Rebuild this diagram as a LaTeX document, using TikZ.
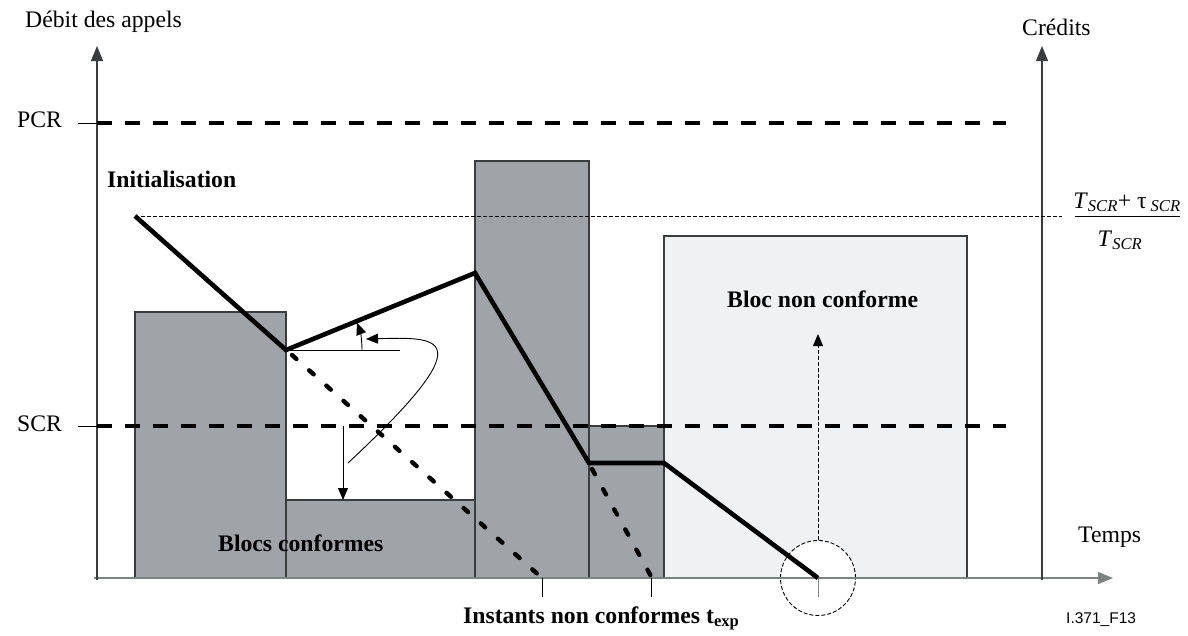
\documentclass[tikz,border=0pt]{standalone}
\usepackage{fontspec}
\setmainfont{Liberation Serif}
\newfontfamily\arialfont{Liberation Sans}
\usetikzlibrary{arrows.meta}
\definecolor{blockdark}{HTML}{A0A3A8}
\definecolor{blocklight}{HTML}{F0F1F3}
\definecolor{edgegray}{HTML}{3A3C3E}
\definecolor{axisgray}{HTML}{7E8280}
\begin{document}
\begin{tikzpicture}[x=1pt,y=-1pt,
  txt/.style={font=\fontsize{23.7}{26}\selectfont, inner sep=0pt},
  btxt/.style={font=\fontsize{23.7}{26}\selectfont\bfseries, inner sep=0pt},
  darkblock/.style={fill=blockdark, draw=edgegray, line width=1.2pt},
  lightblock/.style={fill=blocklight, draw=edgegray, line width=1.2pt},
  axisline/.style={draw=edgegray, line width=1.1pt},
  bigtip/.style={-{Triangle[length=15pt,width=12pt]}},
  smalltip/.style={-{Triangle[length=12pt,width=10pt]}},
  levelline/.style={line width=4pt, dash pattern=on 15pt off 13pt},
  curveline/.style={line width=4.6pt, line join=miter},
  dotline/.style={line width=4.4pt, line cap=round, dash pattern=on 6pt off 17pt},
  finedash/.style={line width=1pt, dash pattern=on 4pt off 2pt},
  thinline/.style={line width=0.9pt}
]
\useasboundingbox (0,0) rectangle (1188,635);

% coordinates of the credit curve
\coordinate (p0) at (135,216);
\coordinate (p1) at (286,350);
\coordinate (p2) at (475,273);
\coordinate (p3) at (589,463);
\coordinate (p4) at (664,463);
\coordinate (p5) at (818,578);
\coordinate (e1) at (542,578);
\coordinate (e2) at (652,578);

% blocks
\path[darkblock] (135,312) rectangle (286,578);
\path[darkblock] (286,500) rectangle (475,578);
\path[darkblock] (475,161) rectangle (589,578);
\path[darkblock] (589,426) rectangle (664,578);
\path[lightblock] (664,236) rectangle (967,578);

% circle
\node[circle, minimum size=75pt, inner sep=0pt, fill=white, draw=black, line width=0.9pt, dash pattern=on 4pt off 2pt] (circ) at (p5) {};

% axes
\draw[draw=axisgray, line width=1.3pt, bigtip] (94,578) -- (1113,578);
\draw[axisline, bigtip] (97,580) -- (97,46);
\draw[axisline, bigtip] (1042,580) -- (1042,46);
\draw[thinline] (78,123) -- (97,123);
\draw[thinline] (78,426) -- (97,426);
\draw[thinline] (542,578) -- (542,597);
\draw[thinline] (651,578) -- (651,597);
\draw[draw=axisgray, thinline] (818,578) -- (818,597);

% levels
\draw[levelline] (97,123) -- (1006,123);
\draw[levelline] (97,426) -- (1006,426);
\draw[finedash] (135,216) -- (1062,216);

% credit curves
\draw[dotline] (p1) ++(6,5) -- (e1);
\draw[dotline] (p3) ++(3,6) -- (e2);
\draw[curveline] (p0) -- (p1) -- (p2) -- (p3) -- (p4) -- (p5);

% angle annotation
\draw[thinline] (p1) -- (400,350);
\draw[thinline, smalltip] (362,350) arc[start angle=0, end angle=-21, radius=76];
\draw[thinline, smalltip] (348,463) .. controls (485,335) and (440,337) .. (366,339);
\draw[thinline, smalltip] (343,426) -- (343,500);

% dashed arrow to non conform block
\draw[finedash, smalltip] (circ.north) -- (818,334);

% labels
\node[txt, anchor=base west] (ylab) at (25,27.5) {Débit des appels};
\node[txt, anchor=base west] (clab) at (1022,35) {Crédits};
\node[txt, anchor=base west] (pcr) at (17,127) {PCR};
\node[txt, anchor=base west] (scr) at (17,431) {SCR};
\node[txt, anchor=base west] (tlab) at (1078,542) {Temps};
\node[btxt, anchor=base west] (init) at (107,187) {Initialisation};
\node[btxt, anchor=base west] (bnc) at (727,307) {Bloc non conforme};
\node[btxt, anchor=base west] (bc) at (218,551) {Blocs conformes};
\node[btxt, anchor=base west] (inst) at (463,623) {Instants non conformes t\textsubscript{exp}};
\node[anchor=base west, inner sep=0pt, font=\arialfont\fontsize{15.5}{18}\selectfont] (ref) at (1066,623) {I.371\_F13};

% fraction
\node[txt, anchor=base] (num) at (1127,208) {\textit{T}\textsubscript{\textit{SCR}}+ τ\,\textsubscript{\textit{SCR}}};
\draw[line width=0.9pt] (1075,216) -- (1180,216);
\node[txt, anchor=base] (den) at (1120,246) {\textit{T}\textsubscript{\textit{SCR}}};
\end{tikzpicture}
\end{document}
